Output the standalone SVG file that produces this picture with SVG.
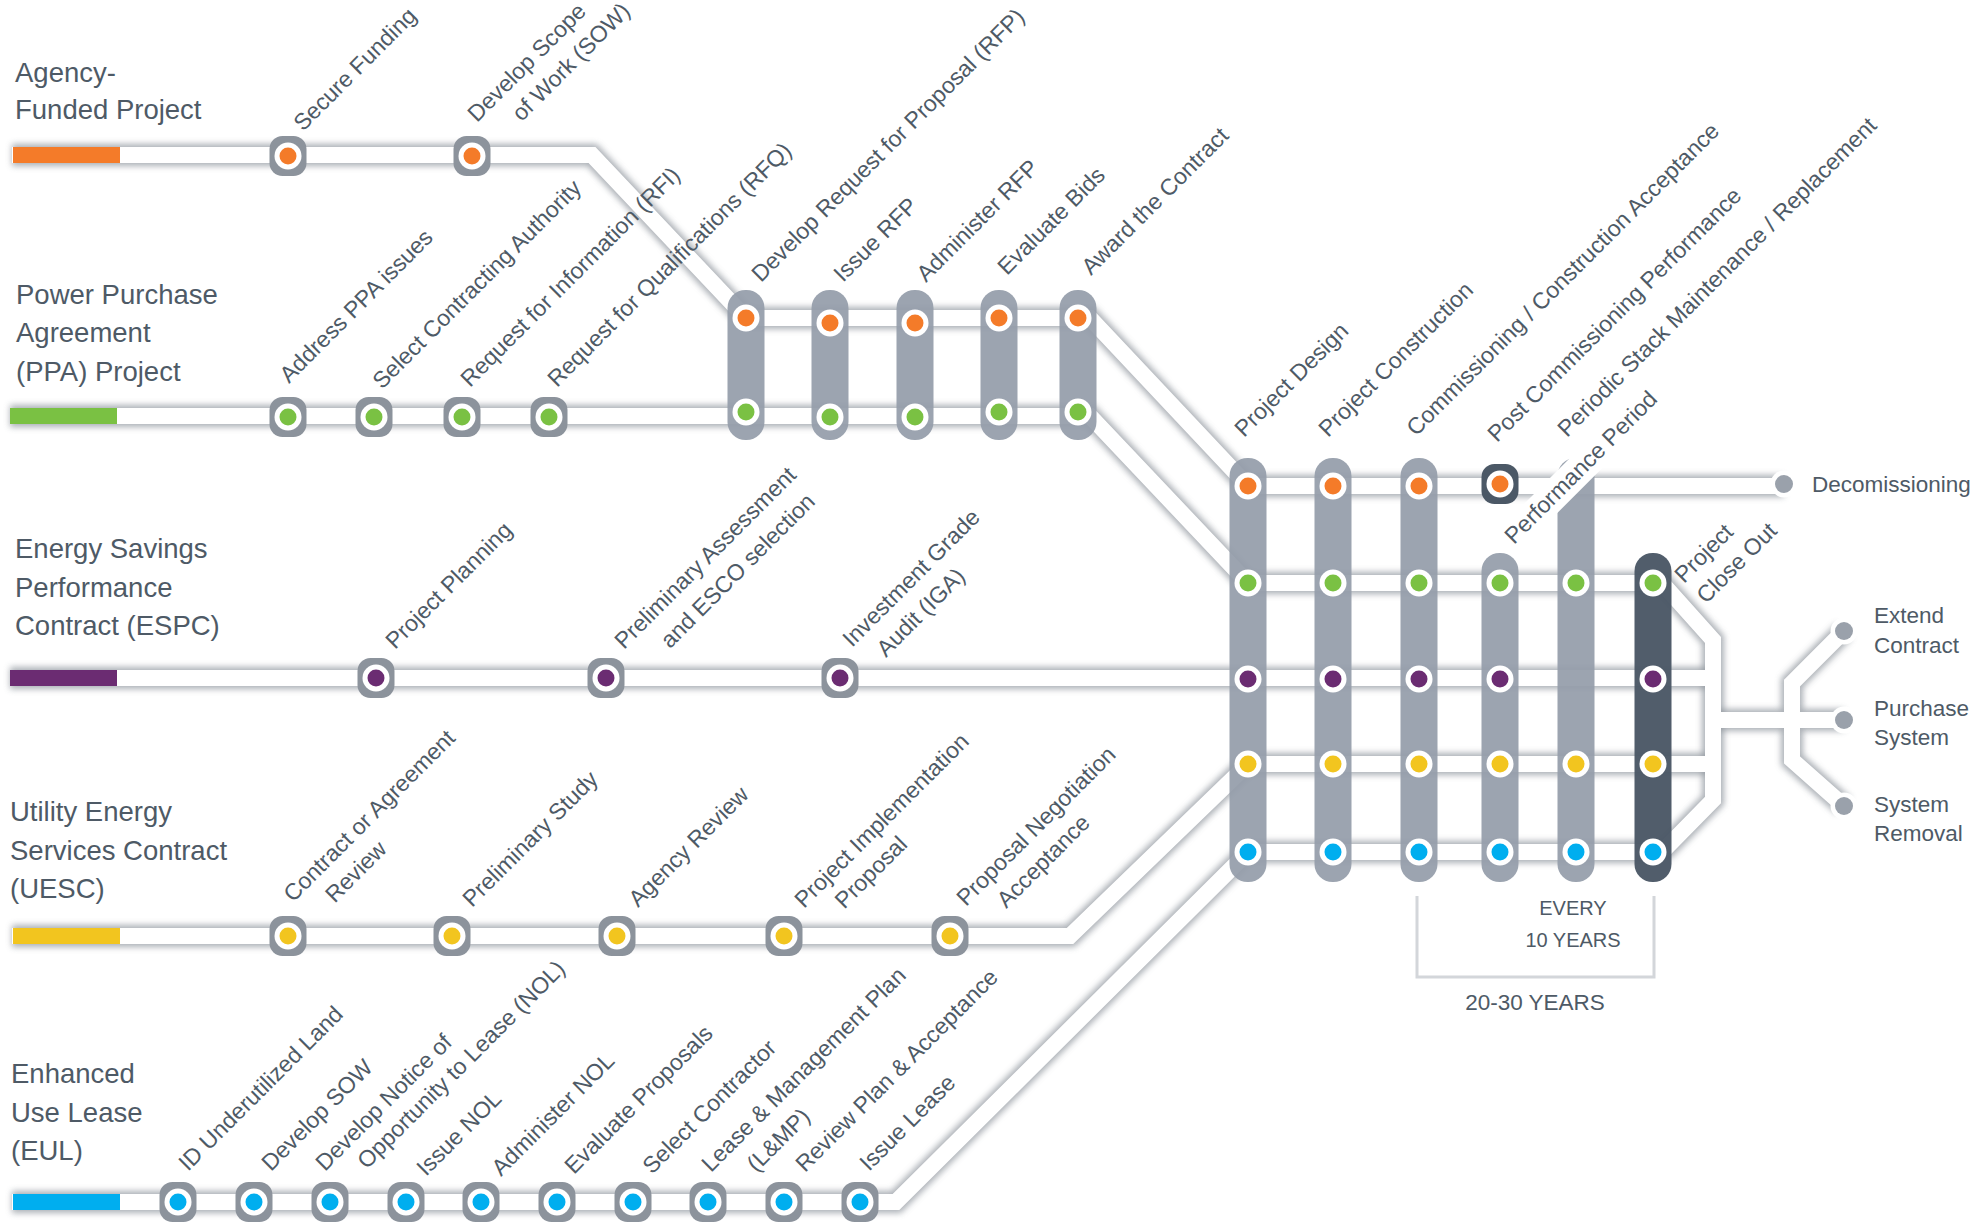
<svg xmlns="http://www.w3.org/2000/svg" xmlns:xlink="http://www.w3.org/1999/xlink" width="1980" height="1225" viewBox="0 0 1980 1225">
<defs>
<style>
.t{font-family:"Liberation Sans",Arial,sans-serif;fill:#4e5a66}
.ti{font-size:27.5px}
.lb{font-size:23px}
.sd{font-size:22.5px}
.yr{font-size:20px}
.sh{fill:none;stroke:#8f959d;stroke-width:22;opacity:.75;filter:url(#blur)}
.ln{fill:none;stroke:#fff;stroke-width:16}
.pill{fill:#959daa;opacity:.93}
.dark{fill:#4b5866;opacity:.97}
.o{fill:#f47b29}.g{fill:#7ac143}.p{fill:#6b2c72}.y{fill:#f2c51f}.b{fill:#00aeef}.e{fill:#9aa1ab}
</style>
<filter id="blur" filterUnits="userSpaceOnUse" x="0" y="0" width="1980" height="1225"><feGaussianBlur stdDeviation="3"/></filter>
<g id="ring"><rect x="-18.5" y="-20" width="37" height="40" rx="13" fill="#8c939c"/><circle r="13.5" fill="#fff"/></g>
<g id="dring"><rect x="-18.5" y="-20" width="37" height="40" rx="13" fill="#4b5866"/><circle r="13.5" fill="#fff"/></g>
<circle id="wc" r="13.5" fill="#fff"/>
</defs>
<rect width="1980" height="1225" fill="#fff"/>

<g id="connectors">
<g id="shadows">
<path class="sh" d="M12 155 H592 L746 318 H1090 L1248 486 H1784"/>
<path class="sh" d="M10 416 H1090 L1248 583 H1662 L1713 640 V800 L1662 852"/>
<path class="sh" d="M10 678 H1713"/>
<path class="sh" d="M12 936 H1070 L1248 764 H1713"/>
<path class="sh" d="M12 1202 H896 L1248 852 H1662"/>
<path class="sh" d="M1713 720 H1844 M1844 631 L1792 683 V760 L1844 806"/>
</g>
<g id="lines">
<path class="ln" d="M12 155 H592 L746 318 H1090 L1248 486 H1784"/>
<path class="ln" d="M10 416 H1090 L1248 583 H1662 L1713 640 V800 L1662 852"/>
<path class="ln" d="M10 678 H1713"/>
<path class="ln" d="M12 936 H1070 L1248 764 H1713"/>
<path class="ln" d="M12 1202 H896 L1248 852 H1662"/>
<path class="ln" d="M1713 720 H1844 M1844 631 L1792 683 V760 L1844 806"/>
</g>
<rect x="13" y="147" width="107" height="16" class="o"/>
<rect x="10" y="408" width="107" height="16" class="g"/>
<rect x="10" y="670" width="107" height="16" class="p"/>
<rect x="13" y="928" width="107" height="16" class="y"/>
<rect x="13" y="1194" width="107" height="16" class="b"/>
</g>

<g id="titles">
<text class="t ti" x="15" y="82">Agency-<tspan x="15" y="119">Funded Project</tspan></text>
<text class="t ti" x="16" y="304">Power Purchase<tspan x="16" y="342">Agreement</tspan><tspan x="16" y="381">(PPA) Project</tspan></text>
<text class="t ti" x="15" y="558">Energy Savings<tspan x="15" y="597">Performance</tspan><tspan x="15" y="635">Contract (ESPC)</tspan></text>
<text class="t ti" x="10" y="821">Utility Energy<tspan x="10" y="860">Services Contract</tspan><tspan x="10" y="898">(UESC)</tspan></text>
<text class="t ti" x="11" y="1083">Enhanced<tspan x="11" y="1122">Use Lease</tspan><tspan x="11" y="1160">(EUL)</tspan></text>
</g>

<!-- Agency -->
<g id="n-secure-funding"><use href="#ring" x="288" y="156"/><circle cx="288" cy="156" r="8.5" class="o"/><text class="t lb" transform="translate(303,132) rotate(-45)">Secure Funding</text></g>
<g id="n-develop-sow"><use href="#ring" x="472" y="156"/><circle cx="472" cy="156" r="8.5" class="o"/><text class="t lb" transform="translate(477,123) rotate(-45)">Develop Scope<tspan x="32" dy="31">of Work (SOW)</tspan></text></g>

<!-- PPA -->
<g id="n-address-ppa"><use href="#ring" x="288" y="417"/><circle cx="288" cy="417" r="8.5" class="g"/><text class="t lb" transform="translate(289,384) rotate(-45)">Address PPA issues</text></g>
<g id="n-select-authority"><use href="#ring" x="374" y="417"/><circle cx="374" cy="417" r="8.5" class="g"/><text class="t lb" transform="translate(382,390) rotate(-45)">Select Contracting Authority</text></g>
<g id="n-rfi"><use href="#ring" x="462" y="417"/><circle cx="462" cy="417" r="8.5" class="g"/><text class="t lb" transform="translate(470,388) rotate(-45)">Request for Information (RFI)</text></g>
<g id="n-rfq"><use href="#ring" x="549" y="417"/><circle cx="549" cy="417" r="8.5" class="g"/><text class="t lb" transform="translate(557,388) rotate(-45)">Request for Qualifications (RFQ)</text></g>

<!-- Top pills -->
<g id="n-develop-rfp"><rect class="pill" x="727.5" y="290" width="37" height="150" rx="18"/><use href="#wc" x="746" y="318"/><circle cx="746" cy="318" r="8.5" class="o"/><use href="#wc" x="746" y="412"/><circle cx="746" cy="412" r="8.5" class="g"/><text class="t lb" transform="translate(761,283) rotate(-45)">Develop Request for Proposal (RFP)</text></g>
<g id="n-issue-rfp"><rect class="pill" x="811.5" y="290" width="37" height="150" rx="18"/><use href="#wc" x="830" y="323"/><circle cx="830" cy="323" r="8.5" class="o"/><use href="#wc" x="830" y="417"/><circle cx="830" cy="417" r="8.5" class="g"/><text class="t lb" transform="translate(843,283) rotate(-45)">Issue RFP</text></g>
<g id="n-administer-rfp"><rect class="pill" x="896.5" y="290" width="37" height="150" rx="18"/><use href="#wc" x="915" y="323"/><circle cx="915" cy="323" r="8.5" class="o"/><use href="#wc" x="915" y="417"/><circle cx="915" cy="417" r="8.5" class="g"/><text class="t lb" transform="translate(926,283) rotate(-45)">Administer RFP</text></g>
<g id="n-evaluate-bids"><rect class="pill" x="980.5" y="290" width="37" height="150" rx="18"/><use href="#wc" x="999" y="318"/><circle cx="999" cy="318" r="8.5" class="o"/><use href="#wc" x="999" y="412"/><circle cx="999" cy="412" r="8.5" class="g"/><text class="t lb" transform="translate(1007,276) rotate(-45)">Evaluate Bids</text></g>
<g id="n-award"><rect class="pill" x="1059.5" y="290" width="37" height="150" rx="18"/><use href="#wc" x="1078" y="318"/><circle cx="1078" cy="318" r="8.5" class="o"/><use href="#wc" x="1078" y="412"/><circle cx="1078" cy="412" r="8.5" class="g"/><text class="t lb" transform="translate(1091,276) rotate(-45)">Award the Contract</text></g>

<!-- ESPC -->
<g id="n-project-planning"><use href="#ring" x="376" y="678"/><circle cx="376" cy="678" r="8.5" class="p"/><text class="t lb" transform="translate(395,650) rotate(-45)">Project Planning</text></g>
<g id="n-preliminary-assessment"><use href="#ring" x="606" y="678"/><circle cx="606" cy="678" r="8.5" class="p"/><text class="t lb" transform="translate(624,650) rotate(-45)">Preliminary Assessment<tspan x="33" dy="32">and ESCO selection</tspan></text></g>
<g id="n-iga"><use href="#ring" x="840" y="678"/><circle cx="840" cy="678" r="8.5" class="p"/><text class="t lb" transform="translate(852,648) rotate(-45)">Investment Grade<tspan x="17" dy="31">Audit (IGA)</tspan></text></g>

<!-- UESC -->
<g id="n-contract-review"><use href="#ring" x="288" y="936"/><circle cx="288" cy="936" r="8.5" class="y"/><text class="t lb" transform="translate(293,903) rotate(-45)">Contract or Agreement<tspan x="29" dy="30">Review</tspan></text></g>
<g id="n-preliminary-study"><use href="#ring" x="452" y="936"/><circle cx="452" cy="936" r="8.5" class="y"/><text class="t lb" transform="translate(472,908) rotate(-45)">Preliminary Study</text></g>
<g id="n-agency-review"><use href="#ring" x="617" y="936"/><circle cx="617" cy="936" r="8.5" class="y"/><text class="t lb" transform="translate(638,908) rotate(-45)">Agency Review</text></g>
<g id="n-implementation-proposal"><use href="#ring" x="784" y="936"/><circle cx="784" cy="936" r="8.5" class="y"/><text class="t lb" transform="translate(804,909) rotate(-45)">Project Implementation<tspan x="28" dy="29">Proposal</tspan></text></g>
<g id="n-negotiation"><use href="#ring" x="950" y="936"/><circle cx="950" cy="936" r="8.5" class="y"/><text class="t lb" transform="translate(966,907) rotate(-45)">Proposal Negotiation<tspan x="27" dy="30">Acceptance</tspan></text></g>

<!-- EUL -->
<g id="n-id-land"><use href="#ring" x="178" y="1202"/><circle cx="178" cy="1202" r="8.5" class="b"/><text class="t lb" transform="translate(188,1172) rotate(-45)">ID Underutilized Land</text></g>
<g id="n-eul-sow"><use href="#ring" x="254" y="1202"/><circle cx="254" cy="1202" r="8.5" class="b"/><text class="t lb" transform="translate(271,1172) rotate(-45)">Develop SOW</text></g>
<g id="n-develop-nol"><use href="#ring" x="330" y="1202"/><circle cx="330" cy="1202" r="8.5" class="b"/><text class="t lb" transform="translate(325,1172) rotate(-45)">Develop Notice of<tspan x="31" dy="28">Opportunity to Lease (NOL)</tspan></text></g>
<g id="n-issue-nol"><use href="#ring" x="406" y="1202"/><circle cx="406" cy="1202" r="8.5" class="b"/><text class="t lb" transform="translate(426,1177) rotate(-45)">Issue NOL</text></g>
<g id="n-administer-nol"><use href="#ring" x="481" y="1202"/><circle cx="481" cy="1202" r="8.5" class="b"/><text class="t lb" transform="translate(501,1177) rotate(-45)">Administer NOL</text></g>
<g id="n-evaluate-proposals"><use href="#ring" x="557" y="1202"/><circle cx="557" cy="1202" r="8.5" class="b"/><text class="t lb" transform="translate(574,1175) rotate(-45)">Evaluate Proposals</text></g>
<g id="n-select-contractor"><use href="#ring" x="633" y="1202"/><circle cx="633" cy="1202" r="8.5" class="b"/><text class="t lb" transform="translate(652,1175) rotate(-45)">Select Contractor</text></g>
<g id="n-lmp"><use href="#ring" x="708" y="1202"/><circle cx="708" cy="1202" r="8.5" class="b"/><text class="t lb" transform="translate(711,1173) rotate(-45)">Lease &amp; Management Plan<tspan x="32" dy="32">(L&amp;MP)</tspan></text></g>
<g id="n-review-plan"><use href="#ring" x="784" y="1202"/><circle cx="784" cy="1202" r="8.5" class="b"/><text class="t lb" transform="translate(805,1173) rotate(-45)">Review Plan &amp; Acceptance</text></g>
<g id="n-issue-lease"><use href="#ring" x="860" y="1202"/><circle cx="860" cy="1202" r="8.5" class="b"/><text class="t lb" transform="translate(869,1172) rotate(-45)">Issue Lease</text></g>

<!-- Central grid -->
<g id="n-project-design"><rect class="pill" x="1229.5" y="458" width="37" height="424" rx="18"/>
<use href="#wc" x="1248" y="486"/><circle cx="1248" cy="486" r="8.5" class="o"/>
<use href="#wc" x="1248" y="583"/><circle cx="1248" cy="583" r="8.5" class="g"/>
<use href="#wc" x="1248" y="679"/><circle cx="1248" cy="679" r="8.5" class="p"/>
<use href="#wc" x="1248" y="764"/><circle cx="1248" cy="764" r="8.5" class="y"/>
<use href="#wc" x="1248" y="852"/><circle cx="1248" cy="852" r="8.5" class="b"/>
<text class="t lb" transform="translate(1244,438) rotate(-45)">Project Design</text></g>
<g id="n-project-construction"><rect class="pill" x="1314.5" y="458" width="37" height="424" rx="18"/>
<use href="#wc" x="1333" y="486"/><circle cx="1333" cy="486" r="8.5" class="o"/>
<use href="#wc" x="1333" y="583"/><circle cx="1333" cy="583" r="8.5" class="g"/>
<use href="#wc" x="1333" y="679"/><circle cx="1333" cy="679" r="8.5" class="p"/>
<use href="#wc" x="1333" y="764"/><circle cx="1333" cy="764" r="8.5" class="y"/>
<use href="#wc" x="1333" y="852"/><circle cx="1333" cy="852" r="8.5" class="b"/>
<text class="t lb" transform="translate(1328,438) rotate(-45)">Project Construction</text></g>
<g id="n-commissioning"><rect class="pill" x="1400.5" y="458" width="37" height="424" rx="18"/>
<use href="#wc" x="1419" y="486"/><circle cx="1419" cy="486" r="8.5" class="o"/>
<use href="#wc" x="1419" y="583"/><circle cx="1419" cy="583" r="8.5" class="g"/>
<use href="#wc" x="1419" y="679"/><circle cx="1419" cy="679" r="8.5" class="p"/>
<use href="#wc" x="1419" y="764"/><circle cx="1419" cy="764" r="8.5" class="y"/>
<use href="#wc" x="1419" y="852"/><circle cx="1419" cy="852" r="8.5" class="b"/>
<text class="t lb" transform="translate(1416,437) rotate(-45)">Commissioning / Construction Acceptance</text></g>
<g id="n-post-commissioning"><rect class="pill" x="1481.5" y="553" width="37" height="329" rx="18"/>
<use href="#dring" x="1500" y="484"/><circle cx="1500" cy="484" r="8.5" class="o"/>
<use href="#wc" x="1500" y="583"/><circle cx="1500" cy="583" r="8.5" class="g"/>
<use href="#wc" x="1500" y="679"/><circle cx="1500" cy="679" r="8.5" class="p"/>
<use href="#wc" x="1500" y="764"/><circle cx="1500" cy="764" r="8.5" class="y"/>
<use href="#wc" x="1500" y="852"/><circle cx="1500" cy="852" r="8.5" class="b"/>
<text class="t lb" transform="translate(1497,443) rotate(-45)">Post Commissioning Performance</text></g>
<g id="n-periodic-stack"><rect class="pill" x="1557.5" y="458" width="37" height="424" rx="18"/>
<use href="#wc" x="1576" y="583"/><circle cx="1576" cy="583" r="8.5" class="g"/>
<use href="#wc" x="1576" y="764"/><circle cx="1576" cy="764" r="8.5" class="y"/>
<use href="#wc" x="1576" y="852"/><circle cx="1576" cy="852" r="8.5" class="b"/>
<text class="t lb" transform="translate(1567,438) rotate(-45)">Periodic Stack Maintenance / Replacement</text></g>
<g id="n-performance-period"><rect x="-6" y="-22" width="214" height="30" fill="#fff" transform="translate(1514,545) rotate(-45)"/><text class="t lb" transform="translate(1514,545) rotate(-45)">Performance Period</text></g>
<g id="n-close-out"><rect class="dark" x="1634.5" y="553" width="37" height="329" rx="18"/>
<use href="#wc" x="1653" y="583"/><circle cx="1653" cy="583" r="8.5" class="g"/>
<use href="#wc" x="1653" y="679"/><circle cx="1653" cy="679" r="8.5" class="p"/>
<use href="#wc" x="1653" y="764"/><circle cx="1653" cy="764" r="8.5" class="y"/>
<use href="#wc" x="1653" y="852"/><circle cx="1653" cy="852" r="8.5" class="b"/>
<text class="t lb" transform="translate(1684,584) rotate(-45)">Project<tspan x="1" dy="30">Close Out</tspan></text></g>

<!-- End stations -->
<g id="n-decommissioning"><use href="#wc" x="1784" y="484"/><circle cx="1784" cy="484" r="9" class="e"/><text class="t sd" x="1812" y="492">Decomissioning</text></g>
<g id="n-extend"><use href="#wc" x="1844" y="631"/><circle cx="1844" cy="631" r="9" class="e"/><text class="t sd" x="1874" y="623">Extend<tspan x="1874" y="653">Contract</tspan></text></g>
<g id="n-purchase"><use href="#wc" x="1844" y="720"/><circle cx="1844" cy="720" r="9" class="e"/><text class="t sd" x="1874" y="716">Purchase<tspan x="1874" y="745">System</tspan></text></g>
<g id="n-removal"><use href="#wc" x="1844" y="806"/><circle cx="1844" cy="806" r="9" class="e"/><text class="t sd" x="1874" y="812">System<tspan x="1874" y="841">Removal</tspan></text></g>

<g id="timeline">
<path d="M1417 896 V977 H1654 V896" fill="none" stroke="#d3d6da" stroke-width="3"/>
<text class="t yr" x="1573" y="915" text-anchor="middle">EVERY</text>
<text class="t yr" x="1573" y="947" text-anchor="middle">10 YEARS</text>
<text class="t sd" x="1535" y="1010" text-anchor="middle">20-30 YEARS</text>
</g>
</svg>
